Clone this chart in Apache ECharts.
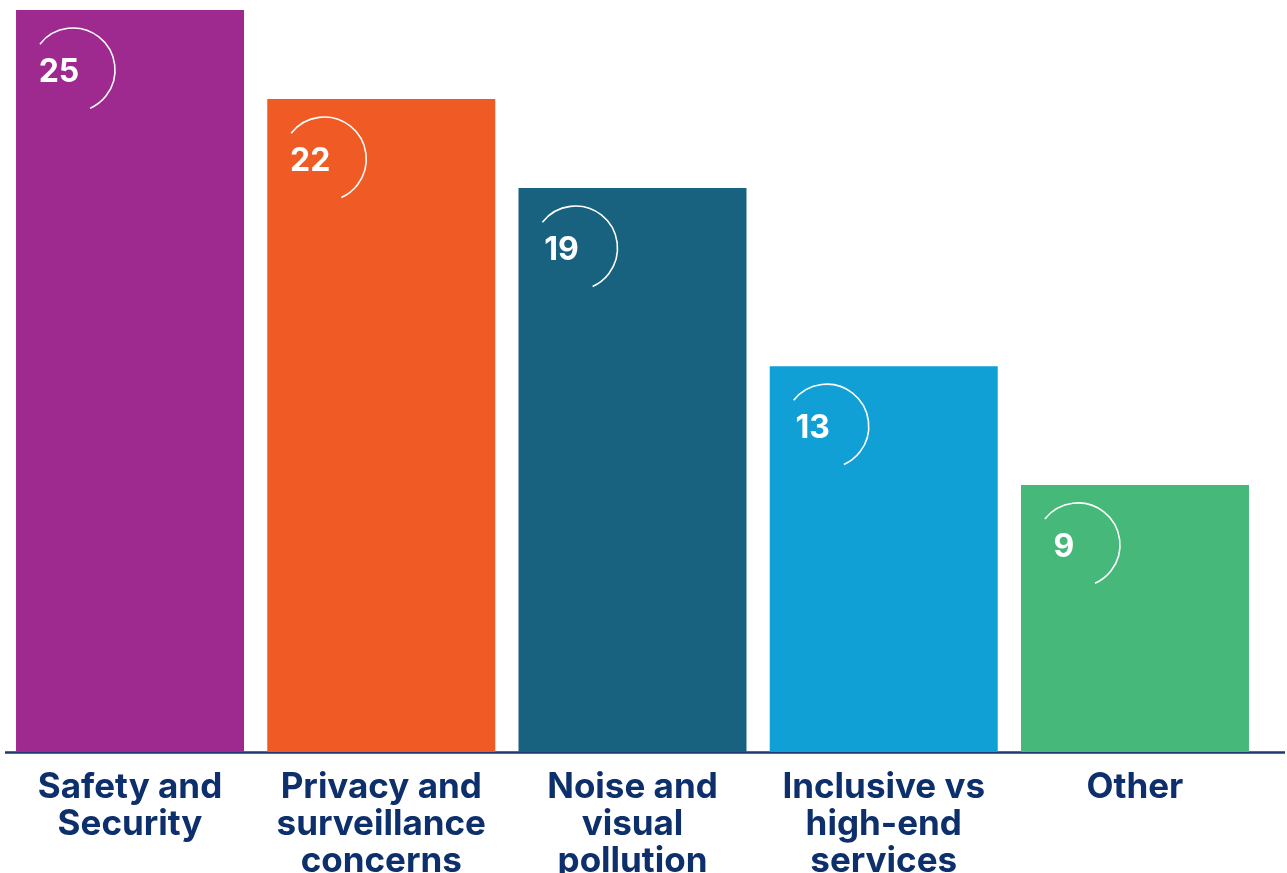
<!DOCTYPE html>
<html>
<head>
<meta charset="utf-8">
<script src="https://cdn.jsdelivr.net/npm/echarts@6/dist/echarts.min.js"></script>
<style>
html,body{margin:0;padding:0;background:#fff;}
#chart{width:1287px;height:873px;}
</style>
</head>
<body>
<div id="chart"></div>
<script>
const categories = ["Safety and\nSecurity", "Privacy and\nsurveillance\nconcerns", "Noise and\nvisual\npollution", "Inclusive vs\nhigh-end\nservices", "Other"];
const values = [25, 22, 19, 13, 9];
const palette = ["#9e2a8f", "#f05a24", "#18627f", "#10a0d6", "#46b97a"];

const FONT = "Inter, 'Open Sans', sans-serif";
const chart = echarts.init(document.getElementById('chart'), null, {renderer: 'canvas'});
const deg = Math.PI / 180;

const option = {
  backgroundColor: '#fff',
  animation: false,
  grid: {left: 4.4, right: 26.4, top: 10, bottom: 121, containLabel: false, outerBoundsMode: 'none'},
  xAxis: {
    type: 'category',
    data: categories,
    axisLine: {show: false},
    axisTick: {show: false},
    axisLabel: {
      interval: 0,
      margin: 17,
      color: '#0d2f6b',
      fontFamily: FONT,
      fontWeight: 700,
      fontSize: 35,
      lineHeight: 37
    }
  },
  yAxis: {
    type: 'value', min: 0, max: 25,
    show: false,
    splitLine: {show: false}
  },
  series: [
    {
      type: 'bar',
      barWidth: 228,
      data: values.map((v, i) => ({value: v, itemStyle: {color: palette[i]}})),
      z: 2
    },
    {
      type: 'custom',
      z: 5,
      data: values.map((v, i) => [i, v]),
      renderItem: function (params, api) {
        const top = api.coord([api.value(0), api.value(1)]);
        const bw = 228;
        const left = top[0] - bw / 2;
        const cx = left + 57;
        const cy = top[1] + 60;
        return {
          type: 'group',
          children: [
            {
              type: 'arc',
              shape: {cx: cx, cy: cy, r: 42, startAngle: -142 * deg, endAngle: 66 * deg, clockwise: true},
              style: {stroke: '#ffffff', lineWidth: 1.6, fill: null}
            },
            {
              type: 'text',
              x: cx - 14,
              y: cy + 2,
              style: {
                text: String(api.value(1)),
                fill: '#ffffff',
                font: '700 32px ' + FONT,
                align: 'center',
                verticalAlign: 'middle'
              }
            }
          ]
        };
      }
    }
  ]
};
chart.setOption(option);

const y0 = chart.convertToPixel({yAxisIndex: 0}, 0);
chart.setOption({
  graphic: [{
    type: 'line',
    z: 1,
    shape: {x1: 5, y1: y0 + 0.5, x2: 1285, y2: y0 + 0.5},
    style: {stroke: '#1a3a6e', lineWidth: 2.5}
  }]
});
</script>
</body>
</html>
